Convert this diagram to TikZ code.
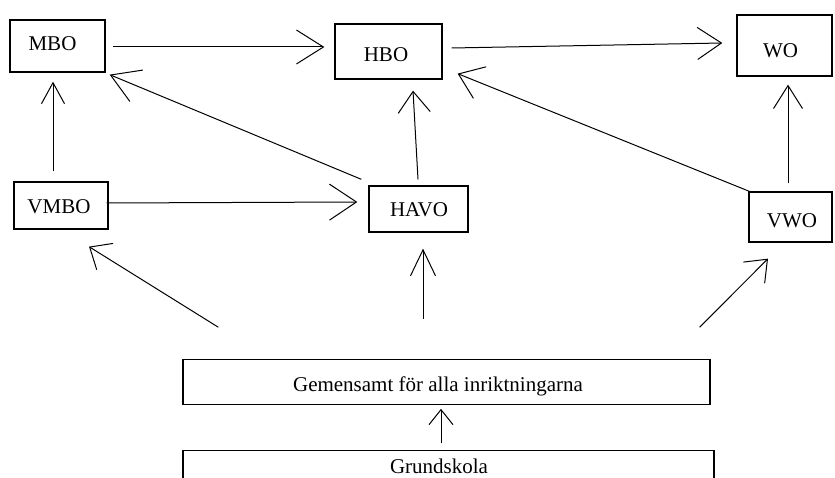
\documentclass[tikz,border=0pt]{standalone}
\usepackage{fontspec}
\setmainfont{Liberation Serif}
\usetikzlibrary{arrows.meta}
\begin{document}
\begin{tikzpicture}[x=1pt,y=-1pt,
  box/.style={draw, line width=1.3pt, inner sep=0pt, rectangle},
  lbl/.style={inner sep=0pt, anchor=base, font=\fontsize{21}{25}\selectfont},
  ln/.style={line width=1pt},
  tip/.style n args={2}{ln, -{Straight Barb[length=#1pt, width=#2pt, line width=1pt]}}]
\clip (0,0) rectangle (835,478);
\fill[white] (0,0) rectangle (835,478);
% boxes
\node[box, minimum width=95pt, minimum height=52pt] (mbo) at (57.5,46) {};
\node[box, minimum width=107pt, minimum height=55pt] (hbo) at (388.5,51.5) {};
\node[box, minimum width=95pt, minimum height=61pt] (wo) at (784.5,45.5) {};
\node[box, minimum width=94pt, minimum height=47pt] (vmbo) at (61,205.5) {};
\node[box, minimum width=99pt, minimum height=46pt] (havo) at (418.5,209) {};
\node[box, minimum width=83pt, minimum height=50pt] (vwo) at (790.5,217) {};
\node[box, minimum width=527pt, minimum height=45pt] (gem) at (446.5,381.7) {};
\node[box, minimum width=531pt, minimum height=60pt] (grund) at (448.5,480.7) {};
% texts
\node[lbl] (tmbo) at (52.5,50.7) {MBO};
\node[lbl] (thbo) at (386,62) {HBO};
\node[lbl] (two) at (780.5,58) {WO};
\node[lbl] (tvmbo) at (59,214) {VMBO};
\node[lbl] (thavo) at (419,217) {HAVO};
\node[lbl] (tvwo) at (792,228) {VWO};
\node[lbl] (tgem) at (438,391) {Gemensamt för alla inriktningarna};
\node[lbl] (tgrund) at (439,473) {Grundskola};
% connectors
\draw[tip={27}{34}] ([shift={(7,1)}]mbo.east) -- ([shift={(-10,-4.5)}]hbo.west);
\draw[tip={24}{32}] ([shift={(9,-3.5)}]hbo.east) -- ([shift={(-14,-2.5)}]wo.west);
\draw[tip={21}{23}] ([shift={(-8,-10)}]vmbo.north) -- ([shift={(-4.5,9)}]mbo.south);
\draw[tip={28}{34}] ([shift={(-7,-6)}]havo.north west) -- ([shift={(4,2)}]mbo.south east);
\draw[tip={27}{36}] ([shift={(-2,-2.5)}]vmbo.east) -- ([shift={(-11,-7)}]havo.west);
\draw[tip={21}{32}] ([shift={(-0.5,-6)}]havo.north) -- ([shift={(24.5,11)}]hbo.south);
\draw[tip={23}{34}] ([shift={(1,0)}]vwo.north west) -- ([shift={(15,-6)}]hbo.south east);
\draw[tip={23}{29}] ([shift={(-2.5,-8)}]vwo.north) -- ([shift={(3.5,8)}]wo.south);
\coordinate (c1) at ([shift={(36,-31.3)}]gem.north west);
\coordinate (c2) at ([shift={(-23.5,-40)}]gem.north);
\coordinate (c3) at ([shift={(-11,-31.3)}]gem.north east);
\draw[tip={18}{31}] (c1) -- ([shift={(28,17)}]vmbo.south);
\draw[tip={26}{25}] (c2) -- ([shift={(4.5,16)}]havo.south);
\draw[tip={19}{30}] (c3) -- ([shift={(-22.5,16)}]vwo.south);
\draw[tip={15}{24}] ([shift={(-7.5,-6.7)}]grund.north) -- ([shift={(-5.5,4)}]gem.south);
\end{tikzpicture}
\end{document}
